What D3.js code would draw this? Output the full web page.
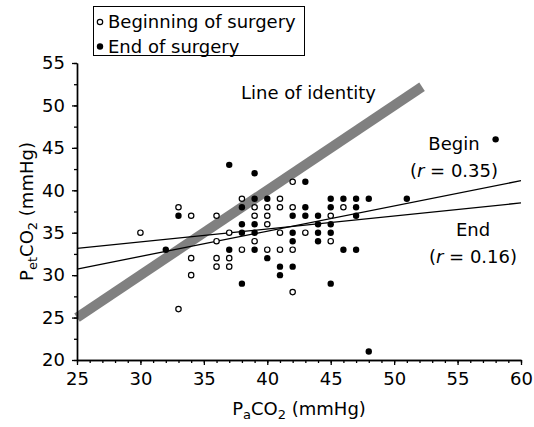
<!DOCTYPE html>
<html><head><meta charset="utf-8">
<script src="https://cdn.jsdelivr.net/npm/d3@7"></script>
<style>body{margin:0;background:#fff}svg{display:block}text{font-family:"DejaVu Sans",sans-serif;fill:#000}</style>
</head><body><svg id="c" width="534" height="427"></svg>
<script>
// Data
const beginPoints = [[30,35],[33,38],[33,26],[34,37],[34,32],[34,30],[36,37],[36,34],[36,32],[36,31],
 [37,35],[37,32],[37,31],[38,39],[38,33],[39,38],[39,37],[39,34],[40,38],[40,37],[40,36],[40,33],
 [41,39],[41,38],[41,35],[41,33],[42,41],[42,38],[42,33],[42,28],[43,35],[45,37],[45,34],[46,38]];
const endPoints = [[32,33],[33,37],[37,43],[37,33],[38,38],[38,36],[38,35],[38,29],[39,42],[39,39],
 [39,36],[39,35],[39,33],[40,39],[40,32],[41,31],[41,30],[42,37],[42,35],[42,34],[42,31],[43,41],
 [43,38],[43,37],[44,37],[44,36],[44,35],[44,34],[45,39],[45,38],[45,36],[45,35],[45,29],[46,39],
 [46,33],[47,39],[47,38],[47,37],[47,33],[48,39],[48,21],[51,39],[58,46]];
const identityLine = [[25,25],[52.2,52.2]];
const beginFit = [[25,30.72],[60,41.13]];
const endFit = [[25,33.15],[60,38.51]];
const xMajorTicks = [25,30,35,40,45,50,55,60];
const yMajorTicks = [20,25,30,35,40,45,50,55];
const xMinorTicks = d3.range(25,61,1);
const yMinorTicks = d3.range(20,55.1,2.5);

const svg = d3.select("#c");
const x = d3.scaleLinear().domain([25,60]).range([77,521]);
const y = d3.scaleLinear().domain([20,55]).range([360,63]);
const line = d3.line().x(d=>x(d[0])).y(d=>y(d[1]));

// identity line
svg.append("path").attr("d",line(identityLine)).attr("stroke","#808080").attr("stroke-width",10).attr("fill","none");
// fits
[beginFit,endFit].forEach(f=>svg.append("path").attr("d",line(f)).attr("stroke","#000").attr("stroke-width",1.3).attr("fill","none"));

// axes
const fs = 18, sub = 13;
function styleAxis(g){g.select(".domain").attr("stroke","#000").attr("stroke-width",1.4);g.selectAll(".tick line").attr("stroke","#000").attr("stroke-width",1.3);g.selectAll("text").style("font-size",fs+"px").style("font-family","DejaVu Sans");}
const gxm = svg.append("g").attr("transform","translate(0,360)").call(d3.axisBottom(x).tickValues(xMinorTicks).tickSize(3).tickSizeOuter(0).tickFormat(""));
styleAxis(gxm);
const gx = svg.append("g").attr("transform","translate(0,360)").call(d3.axisBottom(x).tickValues(xMajorTicks).tickSize(5).tickSizeOuter(0).tickPadding(7));
styleAxis(gx);
const gym = svg.append("g").attr("transform","translate(77,0)").call(d3.axisLeft(y).tickValues(yMinorTicks).tickSize(3).tickSizeOuter(0).tickFormat(""));
styleAxis(gym);
const gy = svg.append("g").attr("transform","translate(77,0)").call(d3.axisLeft(y).tickValues(yMajorTicks).tickSize(5).tickSizeOuter(0).tickPadding(7));
styleAxis(gy);

// points
svg.append("g").selectAll("circle").data(beginPoints).join("circle")
  .attr("cx",d=>x(d[0])).attr("cy",d=>y(d[1])).attr("r",2.7)
  .attr("fill","#fff").attr("stroke","#000").attr("stroke-width",1.2);
svg.append("g").selectAll("circle").data(endPoints).join("circle")
  .attr("cx",d=>x(d[0])).attr("cy",d=>y(d[1])).attr("r",3.2).attr("fill","#000");

// legend
svg.append("rect").attr("x",93.5).attr("y",6.5).attr("width",211).attr("height",49).attr("fill","#fff").attr("stroke","#000").attr("stroke-width",1);
svg.append("circle").attr("cx",100).attr("cy",22).attr("r",2.7).attr("fill","#fff").attr("stroke","#000").attr("stroke-width",1.2);
svg.append("circle").attr("cx",100).attr("cy",46.5).attr("r",3.2).attr("fill","#000");
svg.append("text").attr("x",108).attr("y",28).style("font-size",fs+"px").text("Beginning of surgery");
svg.append("text").attr("x",108).attr("y",52.5).style("font-size",fs+"px").text("End of surgery");

// annotations
svg.append("text").attr("x",241).attr("y",99).style("font-size",fs+"px").text("Line of identity");
function label(cx,by,lines){
  svg.append("text").attr("x",cx).attr("y",by).attr("text-anchor","middle").style("font-size",fs+"px").text(lines[0]);
  const t2 = svg.append("text").attr("x",cx).attr("y",by+27).attr("text-anchor","middle").style("font-size",fs+"px");
  t2.append("tspan").text("(");
  t2.append("tspan").style("font-style","italic").text("r");
  t2.append("tspan").text(" = "+lines[1]+")");
}
label(454,150,["Begin","0.35"]);
label(473,236,["End","0.16"]);

// axis titles
const xt = svg.append("text").attr("x",299).attr("y",415).attr("text-anchor","middle").style("font-size",fs+"px");
xt.append("tspan").text("P");
xt.append("tspan").attr("dy",4).style("font-size",sub+"px").text("a");
xt.append("tspan").attr("dy",-4).text("CO");
xt.append("tspan").attr("dy",4).style("font-size",sub+"px").text("2");
xt.append("tspan").attr("dy",-4).text(" (mmHg)");
const yt = svg.append("text").attr("transform","translate(33,211.5) rotate(-90)").attr("text-anchor","middle").style("font-size",fs+"px");
yt.append("tspan").text("P");
yt.append("tspan").attr("dy",4).style("font-size",sub+"px").text("et");
yt.append("tspan").attr("dy",-4).text("CO");
yt.append("tspan").attr("dy",4).style("font-size",sub+"px").text("2");
yt.append("tspan").attr("dy",-4).text(" (mmHg)");
</script></body></html>
